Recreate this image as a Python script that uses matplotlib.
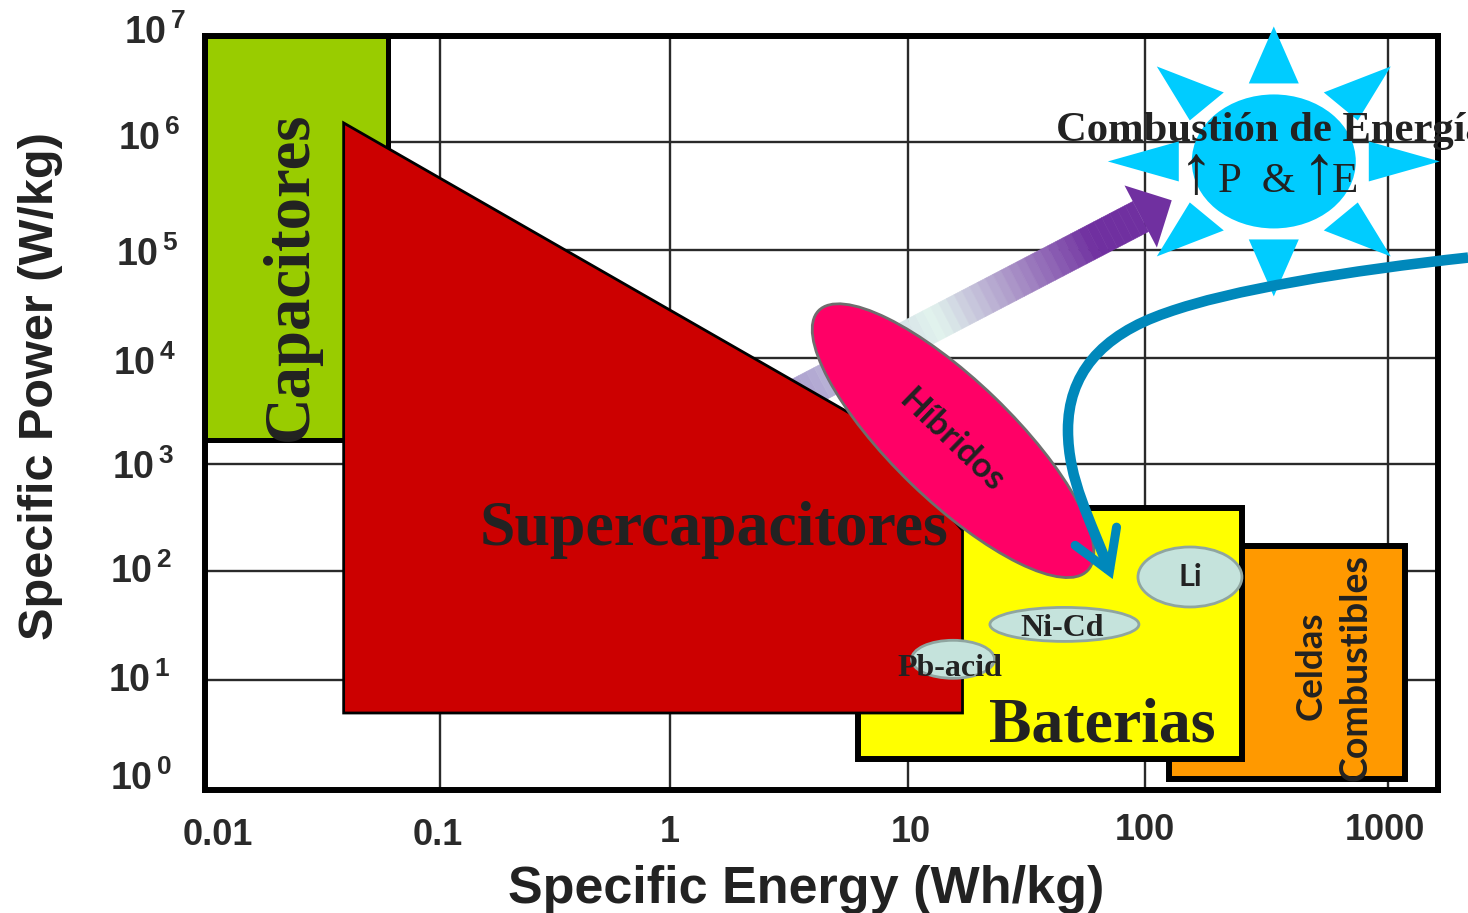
import numpy as np
import matplotlib
matplotlib.use('Agg')
import matplotlib.pyplot as plt
from matplotlib.patches import Polygon, Ellipse, PathPatch
from matplotlib.path import Path
from matplotlib.transforms import IdentityTransform, ScaledTranslation
from matplotlib.colors import LinearSegmentedColormap

W, H = 1468, 913

# everything below is log10 of (Wh/kg, W/kg)
x_decades = [-2, -1, 0, 1, 2, 3]
y_decades = [0, 1, 2, 3, 4, 5, 6, 7]
x_tick_labels = ['0.01', '0.1', '1', '10', '100', '1000']
y_tick_labels = ['$\\mathbf{10^{\\,%d}}$' % d for d in y_decades]

capacitors_x = [-2.0, -1.22]
capacitors_y = [3.23, 7.0]
batteries_x = [0.79, 2.40]
batteries_y = [0.28, 2.59]
fuel_cells_x = [2.10, 3.07]
fuel_cells_y = [0.10, 2.23]
supercaps_x = [-1.41, 0.84, 1.23, 1.23, -1.41]
supercaps_y = [6.18, 3.37, 2.38, 0.70, 0.70]

# center x, center y, width px, height px, angle
hybrids = (1.19, 3.22, 374, 120, -44)
li = (2.185, 1.945, 104, 60, 0)
nicd = (1.66, 1.51, 149, 34, 0)
pb = (1.19, 1.19, 83, 38, 0)

sun_center = (2.53, 5.82)
arrow_tail = (0.41, 3.50)
arrow_tip = (2.11, 5.46)

curve_x = [3.33, 2.84, 2.35, 2.09, 1.81, 1.675, 1.675, 1.675, 1.77, 1.85]
curve_y = [4.93, 4.81, 4.63, 4.42, 4.21, 3.84, 3.32, 2.85, 2.48, 2.00]
barb_x = [1.705, 1.85, 1.88]
barb_y = [2.24, 2.00, 2.41]

# the paper grid is not quite even, so the axes follow it
x_knots = [-3, -2, -1, 0, 1, 2, 3, 3.5]
x_pos = [-30, 0, 235, 465, 703, 940, 1183, 1304.5]
y_knots = [-1, 0, 1, 2, 3, 4, 5, 6, 7, 8]
y_pos = [-110, 0, 110, 219, 326, 432, 540, 648, 754, 859]


def fx(v):
    return np.interp(np.log10(np.maximum(v, 1e-9)), x_knots, x_pos)


def fx_inv(v):
    return 10 ** np.interp(v, x_pos, x_knots)


def fy(v):
    return np.interp(np.log10(np.maximum(v, 1e-9)), y_knots, y_pos)


def fy_inv(v):
    return 10 ** np.interp(v, y_pos, y_knots)


def dec(vals):
    return 10 ** np.array(vals, dtype=float)


plt.rcParams['mathtext.fontset'] = 'custom'
plt.rcParams['mathtext.bf'] = 'Liberation Sans:bold'
plt.rcParams['mathtext.rm'] = 'Liberation Sans:bold'

fig = plt.figure(figsize=(W / 100, H / 100), dpi=100)
ax = fig.add_axes([205 / W, (H - 790) / H, 1233 / W, 754 / H])
ax.set_xscale('function', functions=(fx, fx_inv))
ax.set_yscale('function', functions=(fy, fy_inv))
ax.set_xlim(dec(-2), fx_inv(1233))
ax.set_ylim(1, dec(7))

ax.set_xticks(dec(x_decades), x_tick_labels)
ax.set_yticks(dec(y_decades), y_tick_labels)
ax.minorticks_off()
ax.grid(True, color='#2a2a2a', linewidth=1.7, zorder=1)
ax.set_axisbelow(True)
ax.tick_params(length=0, labelsize=26, labelcolor='#2a2a2a', pad=0)
for s in ax.spines.values():
    s.set_linewidth(4.3)
    s.set_zorder(20)

x_shift = [(13, -28), (-2, -28), (0, -25), (3, -25), (0, -23), (-3, -23)]
for lab, (dx, dy) in zip(ax.get_xticklabels(), x_shift):
    lab.set_family('Liberation Sans')
    lab.set_fontweight('bold')
    lab.set_fontsize(26)
    lab.set_transform(lab.get_transform() + ScaledTranslation(dx / 100, dy / 100, fig.dpi_scale_trans))

y_shift = [(-33, 15), (-35, 3), (-33, 3), (-31, 0), (-29, -2), (-27, -1), (-25, 7), (-19, 7)]
for lab, (dx, dy) in zip(ax.get_yticklabels(), y_shift):
    lab.set_fontsize(27)
    lab.set_transform(lab.get_transform() + ScaledTranslation(dx / 100, dy / 100, fig.dpi_scale_trans))


def box(xs, ys, color, lw, z):
    pts = [(xs[0], ys[0]), (xs[1], ys[0]), (xs[1], ys[1]), (xs[0], ys[1])]
    ax.add_patch(Polygon(dec(pts), closed=True, facecolor=color, edgecolor='black',
                         linewidth=lw, joinstyle='miter', zorder=z))


def to_px(x, y):
    return ax.transData.transform((10.0 ** x, 10.0 ** y))


def oval(spec, color, edge, z):
    cx, cy, w, h, ang = spec
    e = Ellipse(to_px(cx, cy), w, h, angle=ang, transform=IdentityTransform(),
                facecolor=color, edgecolor=edge, linewidth=2, zorder=z)
    ax.add_patch(e)
    e.set_clip_on(False)


# gradient arrow, drawn in bands
tail = to_px(*arrow_tail)
tip = to_px(*arrow_tip)
d = (tip - tail) / np.hypot(*(tip - tail))
n = np.array([-d[1], d[0]])
joint = tip - 35 * d
cmap = LinearSegmentedColormap.from_list('arrow', [(0, '#A08CC8'), (0.455, '#E2F4EE'),
                                                   (0.874, '#7030A0'), (1, '#7030A0')])
bands = 48
edges = np.linspace(0, 1, bands + 1)
shaft_len = np.hypot(*(joint - tail))
for i in range(bands):
    a = tail + d * shaft_len * edges[i]
    b = tail + d * shaft_len * edges[i + 1]
    col = cmap((i + 0.5) / bands)
    q = Polygon([a + 17 * n, b + 17 * n, b - 17 * n, a - 17 * n], transform=IdentityTransform(),
                facecolor=col, edgecolor=col, linewidth=0.4, zorder=3)
    ax.add_patch(q)
head = Polygon([tip, joint + 35 * n, joint - 35 * n], transform=IdentityTransform(),
               facecolor='#7030A0', edgecolor='none', zorder=3)
ax.add_patch(head)

box(capacitors_x, capacitors_y, '#99CC00', 3.6, 4)
box(fuel_cells_x, fuel_cells_y, '#FF9900', 4.3, 5)
box(batteries_x, batteries_y, '#FFFF00', 4.3, 6)
ax.add_patch(Polygon(np.column_stack([dec(supercaps_x), dec(supercaps_y)]), closed=True,
                     facecolor='#CC0000', edgecolor='black', linewidth=2, zorder=7))

oval(hybrids, '#FF0066', '#6E6E6E', 8)
oval(li, '#C5E3DC', '#8FA5A0', 8)
oval(nicd, '#C5E3DC', '#8FA5A0', 8)
oval(pb, '#C5E3DC', '#8FA5A0', 8)

# sun: offsets in px from its center, mirrored to all sides
sun = to_px(*sun_center)
sun_blue = '#00CCFF'
oval((sun_center[0], sun_center[1], 164, 134, 0), sun_blue, 'none', 25)
rays = [[(0, 135), (-25, 78), (25, 78)],
        [(0, -135), (-25, -78), (25, -78)],
        [(-166, 0), (-95, 20), (-95, -20)],
        [(166, 0), (95, 20), (95, -20)]]
for sx in (-1, 1):
    for sy in (-1, 1):
        rays.append([(sx * 117, sy * 95), (sx * 50, sy * 69), (sx * 84, sy * 41)])
for r in rays:
    p = Polygon(sun + np.array(r), transform=IdentityTransform(), facecolor=sun_blue,
                edgecolor='none', zorder=25)
    ax.add_patch(p)
    p.set_clip_on(False)

# blue curve into the batteries
blue = '#0088BB'
curve_pts = np.column_stack([dec(curve_x), dec(curve_y)])
codes = [Path.MOVETO] + [Path.CURVE4] * (len(curve_pts) - 1)
line = PathPatch(Path(curve_pts, codes), facecolor='none', edgecolor=blue, linewidth=7.6,
                 capstyle='butt', zorder=30)
ax.add_patch(line)
line.set_clip_on(False)
ax.plot(dec(barb_x), dec(barb_y), color=blue, linewidth=6.5, solid_capstyle='round',
        solid_joinstyle='miter', zorder=30)


def label(px, py, s, size, family='Liberation Serif', weight='bold', rot=0, ha='center', color='#222222'):
    fig.text(px / W, 1 - py / H, s, fontsize=size, family=family, fontweight=weight,
             rotation=rot, ha=ha, va='center', color=color, rotation_mode='anchor')


label(806, 889, 'Specific Energy (Wh/kg)', 37.5, family='Liberation Sans')
label(41, 386, 'Specific Power (W/kg)', 35, family='Liberation Sans', rot=90)
label(291, 276, 'Capacitores', 46.5, rot=90)
label(714, 530, 'Supercapacitores', 46)
label(1102, 726, 'Baterias', 46)
label(1056, 131, 'Combustión de Energía', 30.7, ha='left')
label(1196, 176, '↑', 50, weight='normal')
label(1257, 182, 'P  &', 31, weight='normal')
label(1319, 176, '↑', 50, weight='normal')
label(1345, 182, 'E', 31, weight='normal')
label(952, 441, 'Híbridos', 25, family='Lato', rot=-44)
label(1190, 577, 'Li', 22, family='Lato')
label(1062, 629, 'Ni-Cd', 23)
label(950, 669, 'Pb-acid', 23)
label(1311, 666, 'Celdas', 26.5, family='Lato', rot=90)
label(1355, 667, 'Combustibles', 27, family='Lato', rot=90)

fig.savefig('out.png', dpi=100)
